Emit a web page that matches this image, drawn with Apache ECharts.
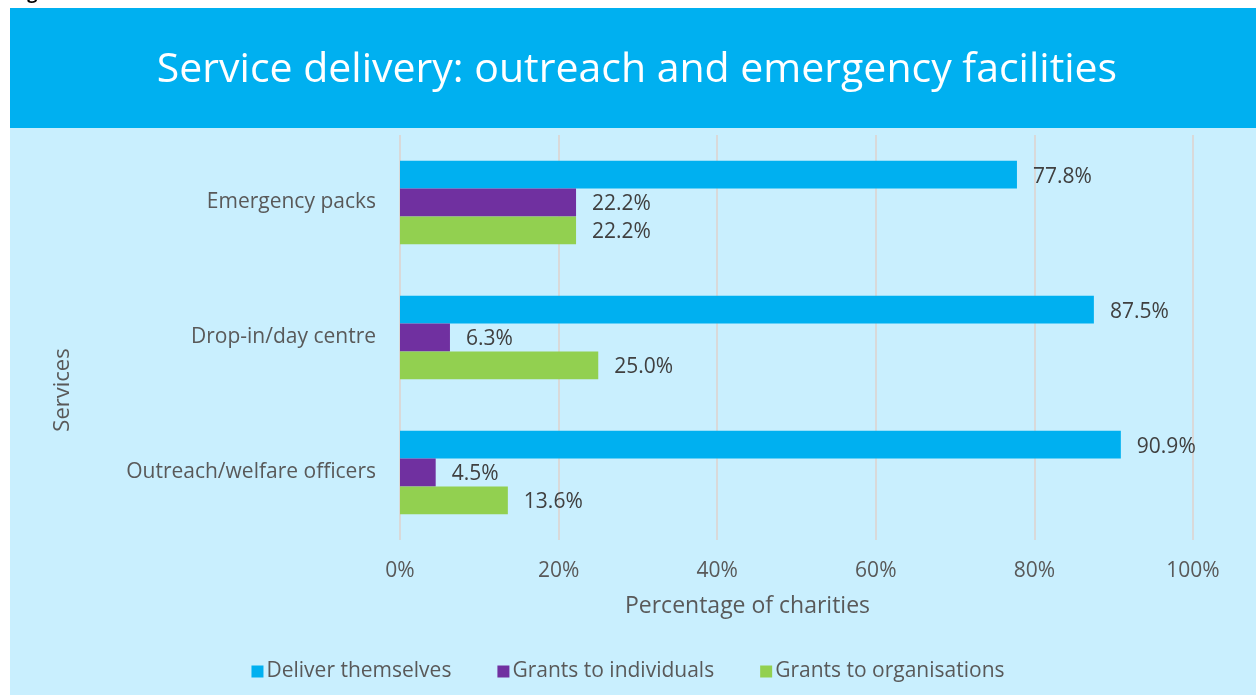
<!DOCTYPE html>
<html>
<head>
<meta charset="utf-8">
<script src="https://cdn.jsdelivr.net/npm/echarts@6/dist/echarts.min.js"></script>
<style>
    html, body { margin: 0; padding: 0; background: #fff; }
    #chart { width: 1256px; height: 695px; }
</style>
</head>
<body>
<div id="chart"></div>
<script>
const services = ['Emergency packs', 'Drop-in/day centre', 'Outreach/welfare officers']
const deliverThemselves = [77.8, 87.5, 90.9]
const grantsIndividuals = [22.2, 6.3, 4.5]
const grantsOrganisations = [22.2, 25.0, 13.6]
const xTicks = [0, 20, 40, 60, 80, 100]

const font = "'Open Sans', 'Liberation Sans', sans-serif"

const barSeries = (name, data, color) => ({
    name,
    type: 'bar',
    data,
    barCategoryGap: '38%',
    barGap: '0%',
    itemStyle: { color },
    label: {
        show: true,
        position: 'right',
        distance: 16,
        offset: [0, 2],
        formatter: p => p.value.toFixed(1) + '%',
        color: '#404040',
        fontSize: 21,
        fontFamily: font
    }
})

const chart = echarts.init(document.getElementById('chart'))
chart.setOption({
    animation: false,
    graphic: [
        { type: 'rect', shape: { x: 10, y: 8, width: 1246, height: 120 }, style: { fill: '#00B0F0' } },
        { type: 'rect', shape: { x: 10, y: 128, width: 1246, height: 567 }, style: { fill: '#C9EFFE' } },
        {
            type: 'text', x: 12, y: -15,
            style: { text: 'Figure', fill: '#000', font: 'bold 18px ' + font }
        },
        {
            type: 'text', x: 637, y: 70,
            style: {
                text: 'Service delivery: outreach and emergency facilities',
                fill: '#fff', font: '500 41px ' + font,
                align: 'center', verticalAlign: 'middle'
            }
        },
        {
            type: 'text', x: 63, y: 390, rotation: Math.PI / 2,
            style: {
                text: 'Services', fill: '#595959', font: '22px ' + font,
                align: 'center', verticalAlign: 'middle'
            }
        }
    ],
    grid: { left: 400, top: 135, width: 793, height: 405 },
    legend: {
        bottom: 8,
        left: 'center',
        itemWidth: 12,
        itemHeight: 12,
        itemGap: 46,
        icon: 'rect',
        textStyle: { color: '#595959', fontSize: 21, fontFamily: font, padding: [0, 0, 0, -2] }
    },
    xAxis: {
        type: 'value',
        min: 0,
        max: 100,
        interval: 20,
        name: 'Percentage of charities',
        nameLocation: 'middle',
        nameGap: 55,
        nameTextStyle: { color: '#595959', fontSize: 23, fontFamily: font, padding: [0, 98, 0, 0] },
        axisLine: { show: false },
        axisTick: { show: false },
        axisLabel: {
            color: '#595959', fontSize: 21, fontFamily: font, margin: 21,
            formatter: v => xTicks.includes(v) ? v + '%' : ''
        },
        splitLine: { lineStyle: { color: '#D9D9D9', width: 2 } }
    },
    yAxis: {
        type: 'category',
        data: services,
        inverse: true,
        axisLine: { show: false },
        axisTick: { show: false },
        axisLabel: { color: '#595959', fontSize: 21, fontFamily: font, margin: 24, padding: [5, 0, 0, 0] }
    },
    series: [
        barSeries('Deliver themselves', deliverThemselves, '#00B0F0'),
        barSeries('Grants to individuals', grantsIndividuals, '#7030A0'),
        barSeries('Grants to organisations', grantsOrganisations, '#92D050')
    ]
})
</script>
</body>
</html>
